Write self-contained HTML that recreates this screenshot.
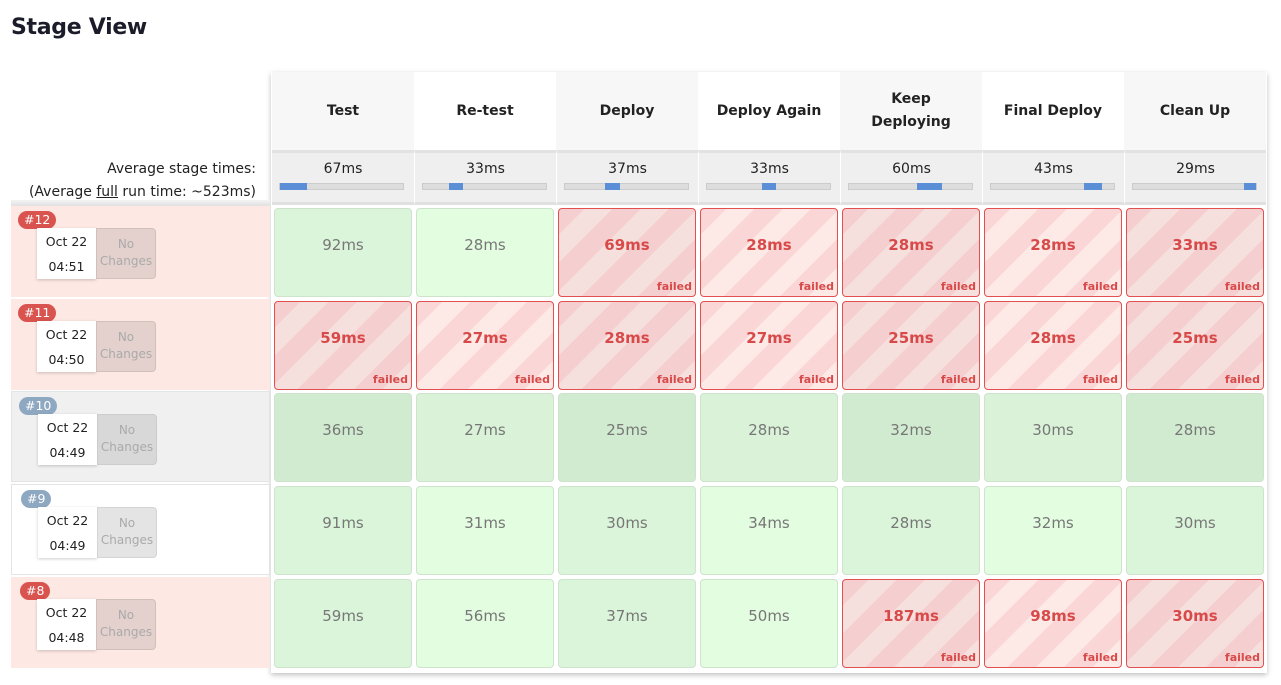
<!DOCTYPE html>
<html><head><meta charset="utf-8"><style>
*{box-sizing:border-box;margin:0;padding:0}
body{width:1281px;height:685px;background:#fff;font-family:"DejaVu Sans","Liberation Sans",sans-serif;color:#222;position:relative;overflow:hidden}
.a{position:absolute}
h1{position:absolute;left:11px;top:15px;font-size:22px;font-weight:bold;color:#1b1b2a;letter-spacing:-0.3px}
.tbl{position:absolute;left:271px;top:72px;width:996px;height:601px;box-shadow:0 2px 5px rgba(0,0,0,.25);background:#fff}
.hd{position:absolute;top:72px;height:78px;width:142px;display:flex;align-items:center;justify-content:center;text-align:center;font-weight:bold;font-size:14px;line-height:23px;color:#222}
.av{position:absolute;top:150px;height:55px;width:142px;background:#efefef;border-top:3px solid #e2e2e2;border-bottom:3px solid #e0e0e0;text-align:center;font-size:14px;padding-top:8px}
.bar{position:absolute;left:7px;top:30px;width:125px;height:7px;background:#ddd;border:1px solid #ccc}
.bar i{position:absolute;top:-1px;height:7px;background:#5a8ed6}
.rw{position:absolute;left:11px;width:259px;height:91px}
.bd{position:absolute;left:7px;top:5px;font-size:12.5px;color:#fff;border-radius:9px;padding:1px 6px;height:18px;line-height:16px}
.dt{position:absolute;left:26px;top:22px;width:59px;height:51px;background:#fff;box-shadow:0 1px 3px rgba(0,0,0,.2);font-size:12.5px;text-align:center;line-height:25px;padding-top:1px}
.nc{position:absolute;left:85px;top:22px;width:60px;height:51px;border:1px solid #d0c0bc;border-radius:0 4px 4px 0;font-size:12px;color:#aaa;text-align:center;line-height:17px;padding-top:7px}
.c{position:absolute;width:138px;height:89px;border-radius:4px;border:1px solid #cde3cc;text-align:center;font-size:15px;color:#777;padding-top:27px}
.g1{background:#dbf5da}.g2{background:#e3fde1}.d1{background:#d1ebd0}.d2{background:#daf2d8}
.f{border:1.5px solid #e35050;color:#d84a4a;font-weight:bold}
.f1{background:repeating-linear-gradient(-45deg,#f5e0dd 0 20px,#f5cfcf 20px 40px)}
.f2{background:repeating-linear-gradient(-45deg,#fde9e5 0 20px,#fbd6d6 20px 40px)}
.f span{position:absolute;right:3px;bottom:3px;font-size:11px;color:#d84a4a}
</style></head><body>
<h1>Stage View</h1>
<div class="tbl"></div>
<div class="hd" style="left:272px;background:#f7f7f7">Test</div>
<div class="hd" style="left:414px;background:#fff">Re-test</div>
<div class="hd" style="left:556px;background:#f7f7f7">Deploy</div>
<div class="hd" style="left:698px;background:#fff">Deploy Again</div>
<div class="hd" style="left:840px;background:#f7f7f7">Keep<br>Deploying</div>
<div class="hd" style="left:982px;background:#fff">Final Deploy</div>
<div class="hd" style="left:1124px;background:#f7f7f7">Clean Up</div>

<div class="a" style="left:11px;top:158px;width:245px;text-align:right;font-size:14px;line-height:23px">Average stage times:<br>(Average <u>full</u> run time: ~523ms)</div>
<div class="a" style="left:11px;top:200px;width:259px;height:6px;background:linear-gradient(#f4f4f4,#e0e0e0)"></div>

<div class="av" style="left:272px">67ms<div class="bar"><i style="left:0;width:27px"></i></div></div>
<div class="av" style="left:414px;border-left:1px solid #fff">33ms<div class="bar"><i style="left:26px;width:14px"></i></div></div>
<div class="av" style="left:556px;border-left:1px solid #fff">37ms<div class="bar"><i style="left:40px;width:15px"></i></div></div>
<div class="av" style="left:698px;border-left:1px solid #fff">33ms<div class="bar"><i style="left:55px;width:14px"></i></div></div>
<div class="av" style="left:840px;border-left:1px solid #fff">60ms<div class="bar"><i style="left:68px;width:25px"></i></div></div>
<div class="av" style="left:982px;border-left:1px solid #fff">43ms<div class="bar"><i style="left:93px;width:18px"></i></div></div>
<div class="av" style="left:1124px;border-left:1px solid #fff">29ms<div class="bar"><i style="left:111px;width:12px"></i></div></div>

<div class="rw" style="top:206px;background:#fde8e3"><div class="bd" style="background:#d9534f">#12</div><div class="dt">Oct 22<br>04:51</div><div class="nc" style="background:#e4d1cd">No<br>Changes</div></div>
<div class="rw" style="top:299px;background:#fde8e3"><div class="bd" style="background:#d9534f">#11</div><div class="dt">Oct 22<br>04:50</div><div class="nc" style="background:#e4d1cd">No<br>Changes</div></div>
<div class="rw" style="top:391px;background:#f0f0f0;border:1px solid #e4e4e4"><div class="bd" style="background:#8fa8c2">#10</div><div class="dt">Oct 22<br>04:49</div><div class="nc" style="background:#d8d8d8;border-color:#ccc">No<br>Changes</div></div>
<div class="rw" style="top:484px;background:#fff;border:1px solid #e4e4e4"><div class="bd" style="background:#8fa8c2;left:9px">#9</div><div class="dt">Oct 22<br>04:49</div><div class="nc" style="background:#e4e4e4;border-color:#d4d4d4">No<br>Changes</div></div>
<div class="rw" style="top:577px;background:#fde8e3"><div class="bd" style="background:#d9534f;left:9px">#8</div><div class="dt">Oct 22<br>04:48</div><div class="nc" style="background:#e4d1cd">No<br>Changes</div></div>

<div class="c g1" style="left:274px;top:208px">92ms</div>
<div class="c g2" style="left:416px;top:208px">28ms</div>
<div class="c f f1" style="left:558px;top:208px">69ms<span>failed</span></div>
<div class="c f f2" style="left:700px;top:208px">28ms<span>failed</span></div>
<div class="c f f1" style="left:842px;top:208px">28ms<span>failed</span></div>
<div class="c f f2" style="left:984px;top:208px">28ms<span>failed</span></div>
<div class="c f f1" style="left:1126px;top:208px">33ms<span>failed</span></div>
<div class="c f f1" style="left:274px;top:301px">59ms<span>failed</span></div>
<div class="c f f2" style="left:416px;top:301px">27ms<span>failed</span></div>
<div class="c f f1" style="left:558px;top:301px">28ms<span>failed</span></div>
<div class="c f f2" style="left:700px;top:301px">27ms<span>failed</span></div>
<div class="c f f1" style="left:842px;top:301px">25ms<span>failed</span></div>
<div class="c f f2" style="left:984px;top:301px">28ms<span>failed</span></div>
<div class="c f f1" style="left:1126px;top:301px">25ms<span>failed</span></div>
<div class="c d1" style="left:274px;top:393px">36ms</div>
<div class="c d2" style="left:416px;top:393px">27ms</div>
<div class="c d1" style="left:558px;top:393px">25ms</div>
<div class="c d2" style="left:700px;top:393px">28ms</div>
<div class="c d1" style="left:842px;top:393px">32ms</div>
<div class="c d2" style="left:984px;top:393px">30ms</div>
<div class="c d1" style="left:1126px;top:393px">28ms</div>
<div class="c g1" style="left:274px;top:486px">91ms</div>
<div class="c g2" style="left:416px;top:486px">31ms</div>
<div class="c g1" style="left:558px;top:486px">30ms</div>
<div class="c g2" style="left:700px;top:486px">34ms</div>
<div class="c g1" style="left:842px;top:486px">28ms</div>
<div class="c g2" style="left:984px;top:486px">32ms</div>
<div class="c g1" style="left:1126px;top:486px">30ms</div>
<div class="c g1" style="left:274px;top:579px">59ms</div>
<div class="c g2" style="left:416px;top:579px">56ms</div>
<div class="c g1" style="left:558px;top:579px">37ms</div>
<div class="c g2" style="left:700px;top:579px">50ms</div>
<div class="c f f1" style="left:842px;top:579px">187ms<span>failed</span></div>
<div class="c f f2" style="left:984px;top:579px">98ms<span>failed</span></div>
<div class="c f f1" style="left:1126px;top:579px">30ms<span>failed</span></div>
</body></html>
